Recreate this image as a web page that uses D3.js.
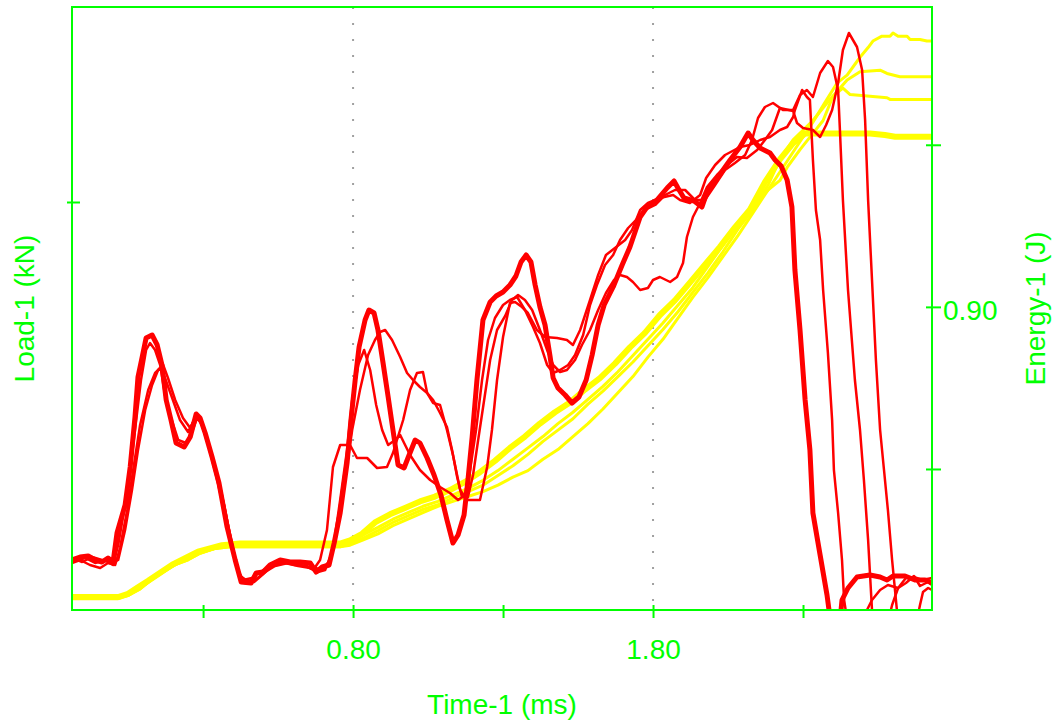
<!DOCTYPE html>
<html>

<head>
    <meta charset="utf-8">

    <!-- Load d3.js -->
    <script src="https://d3js.org/d3.v7.min.js"></script>

    <style>
        body {
            margin: 0;
            background: #ffffff;
        }

        svg text {
            fill: #00ff00;
            font: 28px "Liberation Sans", Arial, sans-serif;
        }
    </style>
</head>

<body>
    <div id="my_dataviz"></div>

    <script>

        // axis ticks
        const timeTicks = [0.30, 0.80, 1.30, 1.80, 2.30];
        const timeLabels = [0.80, 1.80];
        const loadTicks = [4.00];
        const energyTicks = [0.80, 0.90, 1.00];
        const energyLabels = [0.90];

        // Load-1 (kN) curves, [time ms, load kN]
        const loadThick = [[-0.137,0.42],[-0.110,0.45],[-0.083,0.46],[-0.060,0.42],[-0.037,0.40],[-0.017,0.44],[0.000,0.40],[0.013,0.69],[0.040,0.97],[0.057,1.35],[0.073,1.85],[0.083,2.25],[0.097,2.45],[0.110,2.64],[0.130,2.67],[0.147,2.57],[0.163,2.37],[0.177,2.02],[0.193,1.82],[0.210,1.59],[0.237,1.55],[0.257,1.65],[0.277,1.88],[0.290,1.84],[0.307,1.69],[0.330,1.45],[0.353,1.19],[0.380,0.75],[0.407,0.42],[0.427,0.20],[0.460,0.19],[0.477,0.29],[0.500,0.30],[0.523,0.37],[0.557,0.42],[0.590,0.40],[0.623,0.40],[0.657,0.39],[0.677,0.30],[0.697,0.35],[0.720,0.37],[0.737,0.59],[0.757,0.89],[0.780,1.39],[0.793,1.82],[0.807,2.22],[0.820,2.55],[0.840,2.82],[0.853,2.92],[0.870,2.89],[0.883,2.72],[0.900,2.39],[0.917,2.05],[0.933,1.72],[0.950,1.37],[0.970,1.34],[0.983,1.44],[1.007,1.62],[1.023,1.59],[1.047,1.44],[1.070,1.27],[1.093,1.07],[1.113,0.82],[1.133,0.59],[1.150,0.67],[1.170,0.87],[1.183,1.22],[1.197,1.65],[1.213,2.22],[1.233,2.82],[1.257,3.00],[1.277,3.06],[1.300,3.10],[1.323,3.17],[1.343,3.26],[1.360,3.40],[1.377,3.47],[1.393,3.40],[1.407,3.17],[1.423,2.95],[1.440,2.77],[1.457,2.45],[1.467,2.24],[1.483,2.14],[1.507,2.07],[1.530,1.99],[1.553,2.05],[1.577,2.22],[1.597,2.47],[1.617,2.77],[1.637,2.97],[1.667,3.15],[1.697,3.37],[1.723,3.55],[1.757,3.85],[1.780,3.95],[1.813,4.02],[1.847,4.14],[1.870,4.21],[1.883,4.14],[1.903,4.04],[1.937,4.01],[1.963,3.95],[1.983,4.12],[2.017,4.25],[2.057,4.42],[2.090,4.55],[2.117,4.69],[2.133,4.62],[2.157,4.54],[2.190,4.49],[2.207,4.42],[2.227,4.36],[2.247,4.22],[2.263,3.95],[2.273,3.32],[2.290,2.72],[2.307,2.02],[2.323,1.52],[2.333,0.89],[2.357,0.47],[2.380,0.07],[2.400,-0.38],[2.417,-0.38],[2.430,0.02],[2.450,0.14],[2.480,0.25],[2.523,0.27],[2.557,0.25],[2.580,0.22],[2.600,0.26],[2.640,0.26],[2.673,0.22],[2.707,0.22],[2.730,0.19]];

        const loadA = [[-0.137,0.39],[-0.110,0.42],[-0.077,0.37],[-0.043,0.34],[-0.017,0.39],[0.007,0.37],[0.023,0.54],[0.047,0.92],[0.067,1.32],[0.090,1.77],[0.117,2.12],[0.140,2.29],[0.157,2.34],[0.173,2.24],[0.197,2.04],[0.223,1.82],[0.250,1.70],[0.273,1.84],[0.290,1.82],[0.313,1.62],[0.337,1.37],[0.363,1.07],[0.390,0.67],[0.413,0.34],[0.433,0.22],[0.463,0.24],[0.490,0.30],[0.523,0.36],[0.563,0.40],[0.607,0.37],[0.640,0.36],[0.667,0.32],[0.690,0.42],[0.713,0.72],[0.733,1.35],[0.757,1.57],[0.790,1.57],[0.813,1.44],[0.847,1.44],[0.880,1.34],[0.913,1.35],[0.933,1.49],[0.967,1.82],[0.990,2.12],[1.013,2.29],[1.033,2.30],[1.047,2.09],[1.067,1.99],[1.090,1.97],[1.113,1.72],[1.133,1.47],[1.157,1.12],[1.180,1.02],[1.223,1.02],[1.247,1.35],[1.263,1.72],[1.280,2.22],[1.300,2.65],[1.323,2.99],[1.340,3.00],[1.363,2.95],[1.383,2.89],[1.413,2.72],[1.440,2.65],[1.480,2.64],[1.513,2.62],[1.533,2.57],[1.557,2.72],[1.590,3.02],[1.617,3.27],[1.643,3.47],[1.673,3.54],[1.707,3.62],[1.730,3.72],[1.757,3.92],[1.783,3.99],[1.823,4.04],[1.867,4.07],[1.890,4.02],[1.923,3.99],[1.957,4.07],[1.977,4.24],[2.007,4.37],[2.040,4.47],[2.090,4.55],[2.123,4.57],[2.157,4.62],[2.190,4.65],[2.223,4.72],[2.247,4.75],[2.267,4.85],[2.273,4.92],[2.297,5.12],[2.313,5.05],[2.323,5.02],[2.333,4.42],[2.343,3.92],[2.357,3.62],[2.367,3.12],[2.383,2.49],[2.397,1.82],[2.403,1.32],[2.417,0.89],[2.430,0.42],[2.437,0.02],[2.450,-0.23],[2.490,-0.28],[2.510,-0.10],[2.530,0.02],[2.557,0.12],[2.583,0.17],[2.617,0.14],[2.643,0.19],[2.670,0.26],[2.690,0.16],[2.717,0.20],[2.730,0.17]];

        const loadB = [[-0.137,0.44],[-0.103,0.40],[-0.070,0.45],[-0.037,0.42],[-0.003,0.39],[0.017,0.42],[0.040,0.72],[0.063,1.12],[0.083,1.52],[0.107,1.92],[0.130,2.17],[0.150,2.32],[0.167,2.37],[0.183,2.24],[0.207,2.02],[0.233,1.84],[0.257,1.74],[0.277,1.86],[0.293,1.80],[0.317,1.57],[0.343,1.27],[0.370,0.92],[0.397,0.52],[0.420,0.27],[0.443,0.22],[0.470,0.20],[0.497,0.27],[0.530,0.36],[0.573,0.39],[0.617,0.36],[0.657,0.34],[0.683,0.30],[0.707,0.32],[0.733,0.52],[0.757,1.02],[0.780,1.52],[0.797,2.02],[0.817,2.37],[0.837,2.52],[0.857,2.32],[0.877,1.97],[0.897,1.72],[0.917,1.57],[0.940,1.62],[0.957,1.67],[0.990,1.47],[1.023,1.32],[1.057,1.22],[1.090,1.15],[1.123,1.09],[1.150,1.02],[1.173,1.07],[1.190,1.32],[1.210,1.72],[1.230,2.22],[1.250,2.62],[1.273,2.84],[1.300,2.97],[1.323,3.02],[1.347,3.05],[1.373,2.92],[1.400,2.75],[1.423,2.59],[1.447,2.37],[1.467,2.29],[1.490,2.32],[1.517,2.37],[1.540,2.47],[1.567,2.67],[1.590,2.97],[1.613,3.17],[1.640,3.37],[1.667,3.47],[1.690,3.62],[1.717,3.74],[1.743,3.82],[1.773,3.92],[1.807,3.97],[1.840,4.07],[1.873,4.12],[1.907,4.12],[1.940,4.02],[1.973,4.02],[2.007,4.17],[2.040,4.32],[2.073,4.39],[2.107,4.47],[2.130,4.62],[2.150,4.84],[2.173,4.95],[2.200,4.99],[2.233,4.92],[2.267,4.92],[2.290,5.07],[2.313,5.12],[2.333,5.05],[2.357,5.29],[2.383,5.41],[2.400,5.35],[2.417,5.12],[2.423,4.72],[2.433,4.02],[2.450,3.12],[2.473,2.22],[2.490,1.72],[2.503,1.22],[2.517,0.62],[2.530,-0.08],[2.543,-0.28],[2.577,-0.28],[2.597,-0.03],[2.617,0.14],[2.643,0.24],[2.670,0.25],[2.697,0.22],[2.730,0.24]];

        const loadC = [[-0.137,0.40],[-0.093,0.44],[-0.060,0.39],[-0.027,0.42],[0.000,0.37],[0.017,0.57],[0.037,0.92],[0.057,1.32],[0.077,1.82],[0.093,2.22],[0.110,2.52],[0.123,2.59],[0.140,2.52],[0.157,2.37],[0.173,2.07],[0.190,1.87],[0.217,1.62],[0.243,1.59],[0.263,1.70],[0.280,1.84],[0.297,1.77],[0.317,1.57],[0.343,1.30],[0.370,0.97],[0.397,0.57],[0.417,0.30],[0.440,0.19],[0.473,0.22],[0.507,0.30],[0.540,0.36],[0.583,0.39],[0.623,0.37],[0.663,0.35],[0.697,0.32],[0.723,0.42],[0.747,0.72],[0.773,1.22],[0.797,1.72],[0.823,2.12],[0.850,2.47],[0.873,2.62],[0.890,2.70],[0.907,2.72],[0.930,2.62],[0.957,2.45],[0.980,2.29],[1.000,2.22],[1.023,2.15],[1.047,2.09],[1.067,2.02],[1.090,1.89],[1.113,1.75],[1.130,1.52],[1.147,1.25],[1.163,1.05],[1.183,1.05],[1.200,1.27],[1.217,1.62],[1.237,2.02],[1.257,2.42],[1.280,2.72],[1.307,2.86],[1.330,3.02],[1.350,3.07],[1.373,3.02],[1.397,2.92],[1.423,2.72],[1.447,2.52],[1.467,2.37],[1.490,2.30],[1.513,2.32],[1.540,2.42],[1.563,2.57],[1.590,2.72],[1.617,2.92],[1.643,3.09],[1.670,3.22],[1.690,3.27],[1.713,3.25],[1.733,3.20],[1.757,3.12],[1.783,3.14],[1.800,3.22],[1.823,3.25],[1.857,3.20],[1.880,3.25],[1.900,3.39],[1.913,3.65],[1.933,3.85],[1.957,3.99],[1.980,4.15],[2.013,4.27],[2.047,4.37],[2.080,4.45],[2.113,4.44],[2.147,4.52],[2.173,4.62],[2.197,4.72],[2.223,4.94],[2.267,4.91],[2.280,4.79],[2.300,4.74],[2.333,4.72],[2.357,4.65],[2.377,4.77],[2.397,4.92],[2.417,5.19],[2.433,5.52],[2.453,5.69],[2.480,5.55],[2.497,5.32],[2.507,4.82],[2.517,4.02],[2.530,3.22],[2.543,2.42],[2.557,1.72],[2.570,1.32],[2.583,0.92],[2.597,0.42],[2.613,-0.08],[2.630,-0.28],[2.673,-0.28],[2.690,-0.03],[2.700,0.10],[2.717,0.14],[2.730,0.12]];

        // Energy-1 (J) curves, [time ms, energy J]
        const energyThick = [[-0.137,0.721],[-0.077,0.721],[0.017,0.721],[0.050,0.723],[0.083,0.727],[0.117,0.731],[0.157,0.736],[0.197,0.741],[0.240,0.745],[0.283,0.749],[0.323,0.751],[0.363,0.753],[0.423,0.754],[0.557,0.754],[0.690,0.754],[0.757,0.754],[0.790,0.756],[0.830,0.760],[0.873,0.767],[0.923,0.772],[0.973,0.776],[1.023,0.780],[1.073,0.783],[1.123,0.787],[1.173,0.792],[1.223,0.798],[1.273,0.805],[1.323,0.813],[1.373,0.820],[1.423,0.828],[1.473,0.835],[1.523,0.841],[1.573,0.849],[1.623,0.856],[1.673,0.865],[1.723,0.875],[1.773,0.884],[1.823,0.895],[1.873,0.904],[1.923,0.915],[1.973,0.926],[2.023,0.937],[2.073,0.949],[2.123,0.960],[2.173,0.977],[2.223,0.991],[2.267,1.001],[2.307,1.007],[2.340,1.007],[2.423,1.007],[2.523,1.007],[2.573,1.006],[2.607,1.005],[2.730,1.005]];

        const energyA = [[-0.137,0.720],[0.017,0.720],[0.050,0.722],[0.090,0.726],[0.123,0.731],[0.163,0.736],[0.207,0.741],[0.250,0.744],[0.290,0.748],[0.340,0.751],[0.390,0.752],[0.623,0.752],[0.757,0.752],[0.790,0.753],[0.830,0.756],[0.883,0.760],[0.933,0.765],[0.983,0.769],[1.033,0.773],[1.083,0.777],[1.133,0.780],[1.183,0.783],[1.233,0.786],[1.283,0.790],[1.333,0.795],[1.383,0.799],[1.433,0.806],[1.483,0.812],[1.533,0.820],[1.583,0.828],[1.633,0.837],[1.683,0.847],[1.733,0.857],[1.783,0.869],[1.833,0.880],[1.883,0.893],[1.933,0.906],[1.983,0.918],[2.033,0.931],[2.083,0.944],[2.133,0.958],[2.183,0.972],[2.233,0.986],[2.283,1.000],[2.333,1.014],[2.373,1.026],[2.413,1.038],[2.447,1.043],[2.490,1.054],[2.517,1.060],[2.533,1.064],[2.563,1.067],[2.590,1.067],[2.600,1.069],[2.617,1.067],[2.647,1.067],[2.657,1.065],[2.690,1.065],[2.713,1.064],[2.730,1.064]];

        const energyB = [[-0.137,0.721],[0.017,0.721],[0.050,0.723],[0.090,0.727],[0.123,0.731],[0.163,0.737],[0.207,0.741],[0.250,0.745],[0.290,0.749],[0.340,0.751],[0.390,0.753],[0.757,0.753],[0.790,0.754],[0.830,0.757],[0.883,0.762],[0.933,0.767],[0.983,0.771],[1.033,0.775],[1.083,0.778],[1.133,0.782],[1.183,0.786],[1.233,0.790],[1.283,0.796],[1.333,0.802],[1.383,0.809],[1.433,0.817],[1.483,0.824],[1.533,0.831],[1.583,0.840],[1.633,0.848],[1.683,0.857],[1.733,0.866],[1.783,0.876],[1.833,0.886],[1.883,0.897],[1.933,0.909],[1.983,0.921],[2.033,0.934],[2.083,0.948],[2.133,0.960],[2.183,0.975],[2.223,0.991],[2.267,1.003],[2.333,1.015],[2.390,1.028],[2.447,1.040],[2.490,1.045],[2.557,1.046],[2.580,1.044],[2.623,1.042],[2.730,1.042]];

        const energyC = [[-0.137,0.721],[0.017,0.721],[0.050,0.722],[0.090,0.726],[0.123,0.731],[0.163,0.736],[0.207,0.741],[0.250,0.744],[0.290,0.748],[0.340,0.751],[0.390,0.752],[0.757,0.752],[0.790,0.754],[0.830,0.759],[0.883,0.764],[0.933,0.769],[0.983,0.773],[1.033,0.777],[1.083,0.780],[1.133,0.784],[1.183,0.788],[1.233,0.793],[1.283,0.799],[1.333,0.806],[1.383,0.813],[1.433,0.820],[1.483,0.828],[1.533,0.835],[1.583,0.843],[1.633,0.851],[1.683,0.860],[1.733,0.870],[1.783,0.880],[1.833,0.890],[1.883,0.901],[1.933,0.912],[1.983,0.925],[2.033,0.938],[2.083,0.951],[2.133,0.963],[2.183,0.972],[2.223,0.978],[2.247,0.986],[2.290,0.997],[2.333,1.007],[2.367,1.015],[2.400,1.030],[2.433,1.035],[2.457,1.031],[2.580,1.029],[2.590,1.028],[2.730,1.028]];

        // set the dimensions and margins of the graph
        const margin = { top: 7, right: 128, bottom: 114, left: 72 },
            width = 1060 - margin.left - margin.right,
            height = 724 - margin.top - margin.bottom;

        const green = "#00ff00";

        const root = d3.select("#my_dataviz")
            .append("svg")
            .attr("width", width + margin.left + margin.right)
            .attr("height", height + margin.top + margin.bottom);

        const svg = root.append("g")
            .attr("transform", `translate(${margin.left}, ${margin.top})`);

        // scales
        const x = d3.scaleLinear().domain([-0.137, 2.73]).range([0, width]);
        const yLoad = d3.scaleLinear().domain([-0.08, 5.95]).range([height, 0]);
        const yEnergy = d3.scaleLinear().domain([0.713, 1.085]).range([height, 0]);

        svg.append("clipPath")
            .attr("id", "plotclip")
            .append("rect")
            .attr("width", width)
            .attr("height", height);

        // dotted grid at the labelled time ticks
        svg.selectAll("line.grid")
            .data(timeLabels)
            .join("line")
            .attr("class", "grid")
            .attr("x1", d => x(d)).attr("x2", d => x(d))
            .attr("y1", 0).attr("y2", height)
            .attr("stroke", "#a0a0a0")
            .attr("stroke-width", 2)
            .attr("stroke-dasharray", "2 14");

        const plot = svg.append("g").attr("clip-path", "url(#plotclip)");

        const energyLine = d3.line()
            .x(d => x(d[0]))
            .y(d => yEnergy(d[1]));

        const loadLine = d3.line()
            .x(d => x(d[0]))
            .y(d => yLoad(d[1]));

        // energy curves (yellow)
        plot.selectAll("path.energy")
            .data([energyA, energyB, energyC, energyThick])
            .join("path")
            .attr("class", "energy")
            .attr("fill", "none")
            .attr("stroke", "#ffff00")
            .attr("stroke-width", (d, i) => i === 3 ? 6 : 3)
            .attr("stroke-linejoin", "round")
            .attr("d", energyLine);

        // load curves (red)
        plot.selectAll("path.load")
            .data([loadA, loadB, loadC, loadThick])
            .join("path")
            .attr("class", "load")
            .attr("fill", "none")
            .attr("stroke", "#ff0000")
            .attr("stroke-width", (d, i) => i === 3 ? 5 : 2.5)
            .attr("stroke-linejoin", "round")
            .attr("d", loadLine);

        // frame
        svg.append("rect")
            .attr("width", width)
            .attr("height", height)
            .attr("fill", "none")
            .attr("stroke", green)
            .attr("stroke-width", 2);

        // X axis
        const fmt = d3.format(".2f");
        const xAxis = svg.append("g")
            .attr("transform", `translate(0, ${height})`)
            .call(d3.axisBottom(x).tickValues(timeTicks)
                .tickFormat(d => timeLabels.includes(d) ? fmt(d) : "")
                .tickSize(8));
        xAxis.select(".domain").remove();
        xAxis.selectAll(".tick line")
            .attr("y1", -5).attr("y2", 8)
            .attr("stroke", green).attr("stroke-width", 2);
        xAxis.selectAll(".tick text")
            .attr("y", 49).attr("dy", 0);

        // left axis (load)
        const yAxisL = svg.append("g")
            .call(d3.axisLeft(yLoad).tickValues(loadTicks).tickFormat(() => "").tickSize(5));
        yAxisL.select(".domain").remove();
        yAxisL.selectAll(".tick line")
            .attr("x1", 8).attr("x2", -5)
            .attr("stroke", green).attr("stroke-width", 2);

        // right axis (energy)
        const yAxisR = svg.append("g")
            .attr("transform", `translate(${width}, 0)`)
            .call(d3.axisRight(yEnergy).tickValues(energyTicks)
                .tickFormat(d => energyLabels.includes(d) ? fmt(d) : "")
                .tickSize(9));
        yAxisR.select(".domain").remove();
        yAxisR.selectAll(".tick line")
            .attr("x1", -6).attr("x2", 9)
            .attr("stroke", green).attr("stroke-width", 2);
        yAxisR.selectAll(".tick text")
            .attr("x", 11).attr("dy", 13);

        // axis titles
        root.append("text")
            .attr("x", margin.left + width / 2)
            .attr("y", 714)
            .attr("text-anchor", "middle")
            .text("Time-1 (ms)");

        root.append("text")
            .attr("transform", `translate(34, ${margin.top + height / 2}) rotate(-90)`)
            .attr("text-anchor", "middle")
            .text("Load-1 (kN)");

        root.append("text")
            .attr("transform", `translate(1045, ${margin.top + height / 2}) rotate(-90)`)
            .attr("text-anchor", "middle")
            .text("Energy-1 (J)");

    </script>
</body>

</html>
